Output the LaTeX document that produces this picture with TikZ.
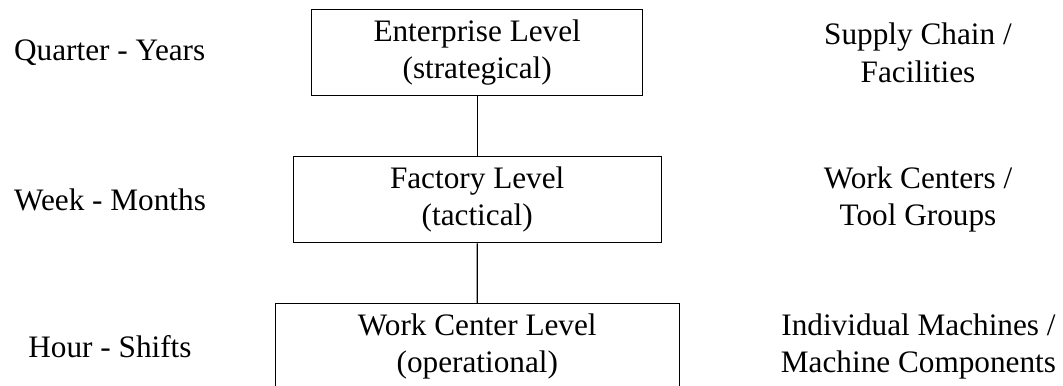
\documentclass[tikz,border=0pt]{standalone}
\usepackage{fontspec}
\setmainfont{Liberation Serif}
\begin{document}
\begin{tikzpicture}[x=0.32pt,y=-0.32pt,
  levelbox/.style={draw,line width=0.4pt,align=center,inner sep=0pt,font=\fontsize{10}{12}\selectfont,minimum height=86*0.32pt},
  sidetext/.style={align=center,inner sep=0pt,font=\fontsize{10}{12}\selectfont}]
\useasboundingbox (0,0) rectangle (1063,386);
\begin{scope}
\clip (0,0) rectangle (1063,386);
\node[levelbox,minimum width=331*0.32pt] (ent) at (477.2,52.7) {Enterprise Level\\(strategical)};
\node[levelbox,minimum width=368*0.32pt] (fac) at (477.2,199.7) {Factory Level\\(tactical)};
\node[levelbox,minimum width=404*0.32pt] (wc) at (477.3,346.7) {Work Center Level\\(operational)};
\draw[line width=0.4pt] (ent.south) -- (fac.north);
\draw[line width=0.4pt] (fac.south) -- (wc.north);
\end{scope}
\node[sidetext] (t1) at (109.7,52.7) {Quarter - Years};
\node[sidetext] (t2) at (110,199.7) {Week - Months};
\node[sidetext] (t3) at (110,346.7) {Hour - Shifts};
\node[sidetext] (d1) at (918,52.7) {Supply Chain /\\Facilities};
\node[sidetext] (d2) at (918,199.7) {Work Centers /\\Tool Groups};
\node[sidetext] (d3) at (918.5,346.7) {Individual Machines /\\Machine Components};
\end{tikzpicture}
\end{document}
